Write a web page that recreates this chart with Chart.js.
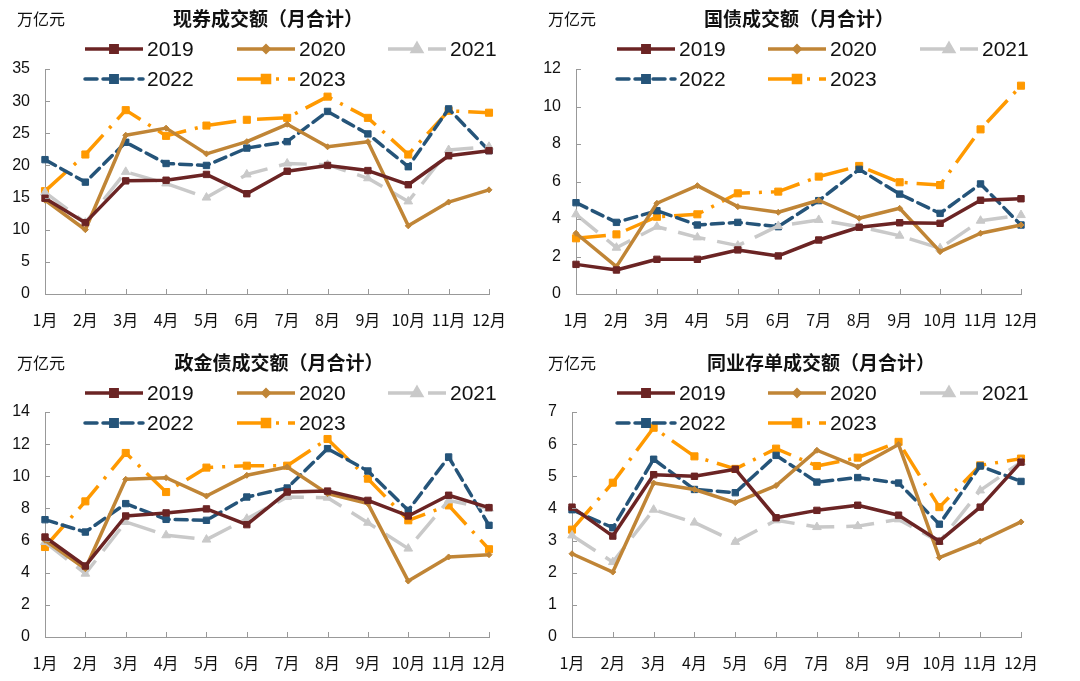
<!DOCTYPE html>
<html>
<head>
<meta charset="utf-8">
<script src="https://cdn.jsdelivr.net/npm/chart.js@4.4.0/dist/chart.umd.min.js"></script>
<style>
  body { margin: 0; background: #fff; width: 1080px; height: 681px; position: relative; overflow: hidden; }
  canvas { position: absolute; }
</style>
</head>
<body>
<canvas id="c1" width="540" height="340" style="left:0;top:0"></canvas>
<canvas id="c2" width="540" height="340" style="left:540px;top:0"></canvas>
<canvas id="c3" width="540" height="340" style="left:0;top:340px"></canvas>
<canvas id="c4" width="540" height="340" style="left:540px;top:340px"></canvas>
<script>
const months = ['1月','2月','3月','4月','5月','6月','7月','8月','9月','10月','11月','12月'];
const years = ['2019','2020','2021','2022','2023'];

// 现券成交额
const spot2019 = [14.9, 11.1, 17.6, 17.7, 18.6, 15.6, 19.1, 20.0, 19.2, 17.0, 21.5, 22.3];
const spot2020 = [14.6, 10.0, 24.7, 25.8, 21.8, 23.7, 26.4, 22.9, 23.7, 10.6, 14.3, 16.2];
const spot2021 = [15.8, 11.1, 19.0, 17.2, 15.0, 18.6, 20.3, 20.1, 18.0, 14.4, 22.4, 22.9];
const spot2022 = [20.9, 17.4, 23.6, 20.3, 20.0, 22.7, 23.7, 28.4, 24.9, 19.8, 28.8, 22.3];
const spot2023 = [16.0, 21.7, 28.6, 24.6, 26.2, 27.1, 27.4, 30.7, 27.4, 21.7, 28.5, 28.2];

// 国债成交额
const govt2019 = [1.58, 1.28, 1.85, 1.85, 2.35, 2.03, 2.88, 3.56, 3.8, 3.77, 5.0, 5.08];
const govt2020 = [3.24, 1.46, 4.84, 5.78, 4.66, 4.36, 5.0, 4.04, 4.57, 2.26, 3.24, 3.68];
const govt2021 = [4.25, 2.47, 3.59, 3.02, 2.58, 3.63, 3.95, 3.59, 3.11, 2.44, 3.91, 4.21];
const govt2022 = [4.87, 3.82, 4.44, 3.68, 3.82, 3.59, 4.98, 6.65, 5.33, 4.3, 5.87, 3.68];
const govt2023 = [2.97, 3.18, 4.12, 4.25, 5.37, 5.46, 6.26, 6.83, 5.96, 5.81, 8.78, 11.11];

// 政金债成交额
const pfb2019 = [6.22, 4.42, 7.53, 7.72, 7.97, 6.99, 9.02, 9.08, 8.5, 7.53, 8.82, 8.05];
const pfb2020 = [6.02, 4.25, 9.81, 9.91, 8.77, 10.06, 10.58, 8.92, 8.3, 3.48, 4.98, 5.12];
const pfb2021 = [5.91, 3.94, 7.16, 6.33, 6.06, 7.36, 8.71, 8.67, 7.11, 5.5, 8.5, 7.99];
const pfb2022 = [7.3, 6.53, 8.3, 7.32, 7.26, 8.71, 9.27, 11.72, 10.33, 7.88, 11.2, 6.95];
const pfb2023 = [5.6, 8.44, 11.45, 9.02, 10.54, 10.66, 10.66, 12.32, 9.85, 7.26, 8.19, 5.46];

// 同业存单成交额
const ncd2019 = [4.04, 3.14, 5.05, 5.0, 5.22, 3.71, 3.94, 4.1, 3.79, 2.98, 4.04, 5.44];
const ncd2020 = [2.59, 2.02, 4.79, 4.59, 4.18, 4.71, 5.81, 5.29, 5.99, 2.47, 2.98, 3.58];
const ncd2021 = [3.16, 2.33, 3.96, 3.56, 2.96, 3.63, 3.42, 3.45, 3.66, 2.96, 4.56, 5.44];
const ncd2022 = [3.96, 3.4, 5.53, 4.59, 4.49, 5.65, 4.82, 4.96, 4.79, 3.51, 5.32, 4.84];
const ncd2023 = [3.34, 4.8, 6.51, 5.62, 5.23, 5.86, 5.32, 5.58, 6.07, 4.04, 5.34, 5.55];

const yTicks1 = [0, 5, 10, 15, 20, 25, 30, 35];
const yTicks2 = [0, 2, 4, 6, 8, 10, 12];
const yTicks3 = [0, 2, 4, 6, 8, 10, 12, 14];
const yTicks4 = [0, 1, 2, 3, 4, 5, 6, 7];

const styles = [
  { color: '#6B2424', dash: [], cap: 'butt', point: 'rect', r: 4.5, w: 3.5 },
  { color: '#C08536', dash: [], cap: 'butt', point: 'rectRot', r: 3, w: 3.5 },
  { color: '#C9C9C9', dash: [28, 12], cap: 'butt', point: 'triangle', r: 5, w: 3.5 },
  { color: '#255479', dash: [12, 6], cap: 'round', point: 'rect', r: 4.5, w: 3.5 },
  { color: '#FF9900', dash: [30, 9, 3, 9], cap: 'butt', point: 'rect', r: 5, w: 3.5 }
];

const CJK = '"Noto Sans CJK SC", sans-serif';
const LAT = '"Liberation Sans", Arial, sans-serif';

// titles, unit, legend and inward tick marks
const decor = {
  id: 'decor',
  afterDraw(chart, args, o) {
    const ctx = chart.ctx;
    const ca = chart.chartArea;
    ctx.save();
    // inward ticks
    ctx.strokeStyle = '#999';
    ctx.lineWidth = 1;
    const ys = chart.scales.y, xs = chart.scales.x;
    ys.ticks.forEach((t, i) => {
      const y = Math.round(ys.getPixelForTick(i)) + 0.5;
      ctx.beginPath(); ctx.moveTo(ca.left, y); ctx.lineTo(ca.left + 5, y); ctx.stroke();
    });
    xs.ticks.forEach((t, i) => {
      const x = Math.round(xs.getPixelForTick(i)) + 0.5;
      ctx.beginPath(); ctx.moveTo(x, ca.bottom); ctx.lineTo(x, ca.bottom - 5); ctx.stroke();
    });
    // unit + title
    ctx.fillStyle = '#111';
    ctx.textBaseline = 'middle';
    ctx.font = '16px ' + CJK;
    ctx.textAlign = 'left';
    ctx.fillText('万亿元', o.unitX, o.titleY);
    ctx.font = 'bold 19px ' + CJK;
    ctx.textAlign = 'center';
    ctx.fillText(o.title, o.titleX, o.titleY);
    // legend
    chart.data.datasets.forEach((ds, i) => {
      const col = i % 3, row = Math.floor(i / 3);
      const x0 = o.legX[col], y = o.legY[row];
      ctx.strokeStyle = ds.borderColor;
      ctx.lineWidth = ds.borderWidth;
      ctx.lineCap = ds.borderCapStyle;
      ctx.setLineDash(ds.borderDash);
      ctx.beginPath(); ctx.moveTo(x0, y); ctx.lineTo(x0 + 58, y); ctx.stroke();
      ctx.setLineDash([]);
      ctx.lineCap = 'butt';
      ctx.fillStyle = ds.pointBackgroundColor;
      ctx.strokeStyle = ds.pointBorderColor;
      Chart.helpers.drawPoint(ctx, { pointStyle: ds.pointStyle, radius: ds.pointRadius, rotation: 0, borderWidth: 1 }, x0 + 29, y);
      ctx.fillStyle = '#111';
      ctx.font = '21px ' + LAT;
      ctx.textAlign = 'left';
      ctx.fillText(ds.label, x0 + 62, y + 1);
    });
    ctx.restore();
  }
};

function makeChart(id, series, ticks, box, deco) {
  const datasets = series.map((vals, i) => {
    const s = styles[i];
    return {
      label: years[i],
      data: vals,
      borderColor: s.color,
      backgroundColor: s.color,
      borderWidth: s.w,
      borderDash: s.dash,
      borderCapStyle: s.cap,
      borderJoinStyle: 'round',
      pointStyle: s.point,
      pointRadius: s.r,
      pointBackgroundColor: s.color,
      pointBorderColor: s.color,
      pointBorderWidth: 1,
      tension: 0,
      fill: false
    };
  });
  return new Chart(document.getElementById(id), {
    type: 'line',
    data: { labels: months, datasets: datasets },
    options: {
      responsive: false,
      animation: false,
      devicePixelRatio: 1,
      layout: { padding: { left: 0, right: 540 - box.right, top: box.top, bottom: 0 } },
      plugins: {
        legend: { display: false },
        title: { display: false },
        tooltip: { enabled: false },
        decor: deco
      },
      scales: {
        x: {
          offset: false,
          grid: { display: false, drawTicks: false },
          border: { color: '#999', width: 1 },
          ticks: { color: '#111', font: { family: CJK, size: 16 }, padding: 16, maxRotation: 0, autoSkip: false },
          afterFit: s => { s.height = 340 - box.bottom; }
        },
        y: {
          min: ticks[0],
          max: ticks[ticks.length - 1],
          afterBuildTicks: s => { s.ticks = ticks.map(v => ({ value: v })); },
          grid: { display: false, drawTicks: false },
          border: { color: '#999', width: 1 },
          ticks: { color: '#111', font: { family: LAT, size: 16 }, padding: 15 },
          afterFit: s => { s.width = box.left; }
        }
      }
    },
    plugins: [decor]
  });
}

makeChart('c1', [spot2019, spot2020, spot2021, spot2022, spot2023], yTicks1,
  { left: 45, right: 489, top: 69, bottom: 294 },
  { title: '现券成交额（月合计）', titleX: 268, titleY: 19, unitX: 17, legX: [85, 237, 388], legY: [49, 79] });
makeChart('c2', [govt2019, govt2020, govt2021, govt2022, govt2023], yTicks2,
  { left: 36, right: 481, top: 69, bottom: 294 },
  { title: '国债成交额（月合计）', titleX: 259, titleY: 19, unitX: 8, legX: [77, 228, 380], legY: [49, 79] });
makeChart('c3', [pfb2019, pfb2020, pfb2021, pfb2022, pfb2023], yTicks3,
  { left: 45, right: 489, top: 72, bottom: 297 },
  { title: '政金债成交额（月合计）', titleX: 279, titleY: 23, unitX: 17, legX: [85, 237, 388], legY: [53, 83] });
makeChart('c4', [ncd2019, ncd2020, ncd2021, ncd2022, ncd2023], yTicks4,
  { left: 32, right: 481, top: 72, bottom: 297 },
  { title: '同业存单成交额（月合计）', titleX: 281, titleY: 23, unitX: 8, legX: [77, 228, 380], legY: [53, 83] });
</script>
</body>
</html>
